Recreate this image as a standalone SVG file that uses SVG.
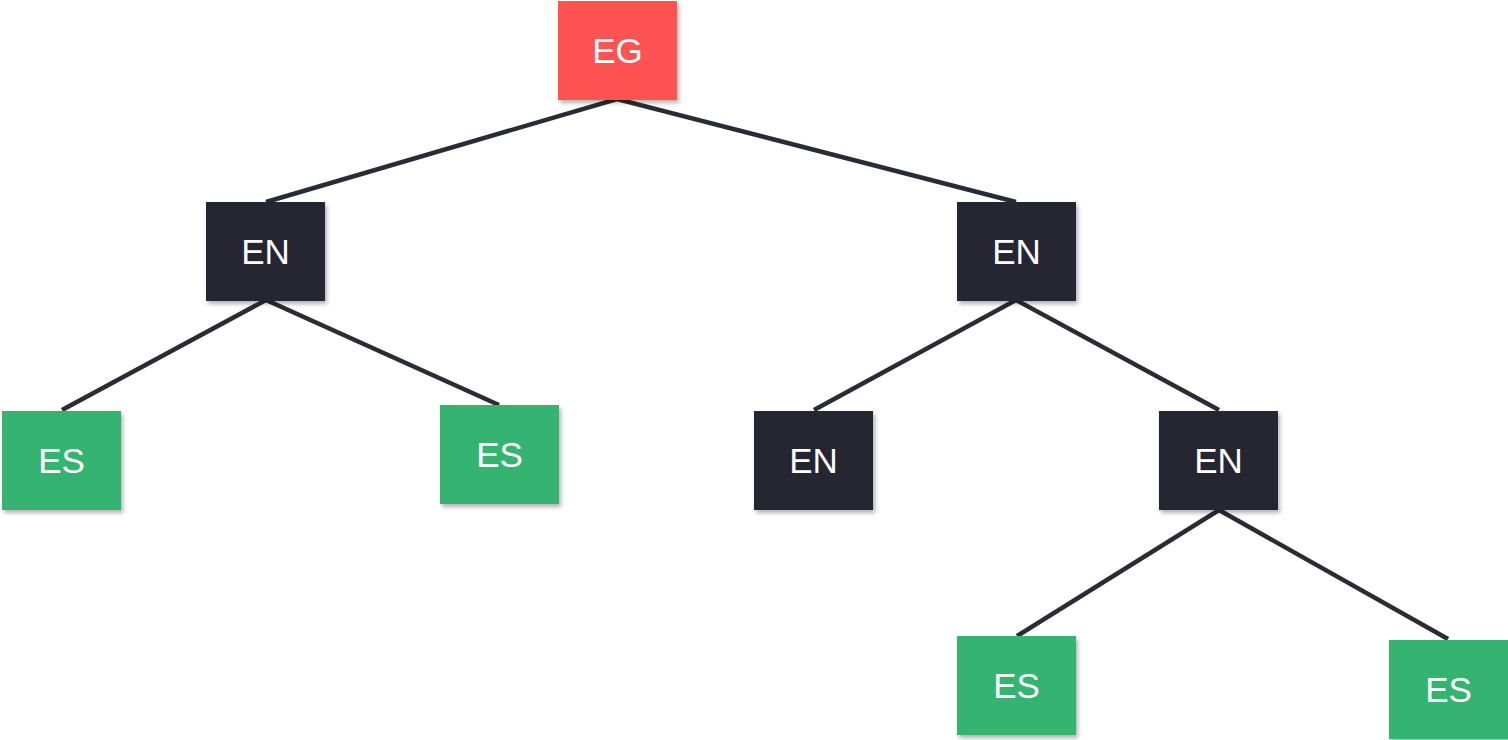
<svg xmlns="http://www.w3.org/2000/svg" width="1508" height="740" viewBox="0 0 1508 740">
  <style>
    .edge { fill: none; stroke: #2b2b35; stroke-width: 4.5; stroke-linecap: butt; }
    .box { filter: url(#shadow); }
    .root { fill: #ff5252; }
    .inner { fill: #282832; }
    .leaf { fill: #36b471; }
    .label { fill: #ffffff; font-family: "Liberation Sans", Arial, sans-serif; font-size: 35px; text-anchor: middle; dominant-baseline: central; }
  </style>
  <defs>
    <filter id="shadow" x="-20%" y="-20%" width="140%" height="140%">
      <feDropShadow dx="2" dy="3" stdDeviation="2" flood-color="#000000" flood-opacity="0.3"/>
    </filter>
  </defs>
  <rect width="1508" height="740" fill="#ffffff"/>

  <g id="connectors">
    <polyline class="edge" points="266,202 617,99 1016,202"/>
    <polyline class="edge" points="62,410 266,300 499,405"/>
    <polyline class="edge" points="814,410 1016,300 1219,410"/>
    <polyline class="edge" points="1017,636 1219,510 1448,639"/>
  </g>

  <g id="node-eg">
    <rect class="box root" x="558" y="1" width="119" height="99"/>
    <text class="label" x="617.5" y="50.5">EG</text>
  </g>
  <g id="node-en-left">
    <rect class="box inner" x="206" y="202" width="119" height="99"/>
    <text class="label" x="265.5" y="251.5">EN</text>
  </g>
  <g id="node-en-right">
    <rect class="box inner" x="957" y="202" width="119" height="99"/>
    <text class="label" x="1016.5" y="251.5">EN</text>
  </g>
  <g id="node-es-1">
    <rect class="box leaf" x="2" y="411" width="119" height="99"/>
    <text class="label" x="61.5" y="460.5">ES</text>
  </g>
  <g id="node-es-2">
    <rect class="box leaf" x="440" y="405" width="119" height="99"/>
    <text class="label" x="499.5" y="454.5">ES</text>
  </g>
  <g id="node-en-3">
    <rect class="box inner" x="754" y="411" width="119" height="99"/>
    <text class="label" x="813.5" y="460.5">EN</text>
  </g>
  <g id="node-en-4">
    <rect class="box inner" x="1159" y="411" width="119" height="99"/>
    <text class="label" x="1218.5" y="460.5">EN</text>
  </g>
  <g id="node-es-3">
    <rect class="box leaf" x="957" y="636" width="119" height="99"/>
    <text class="label" x="1016.5" y="685.5">ES</text>
  </g>
  <g id="node-es-4">
    <rect class="box leaf" x="1389" y="640" width="119" height="99"/>
    <text class="label" x="1448.5" y="689.5">ES</text>
  </g>
</svg>
